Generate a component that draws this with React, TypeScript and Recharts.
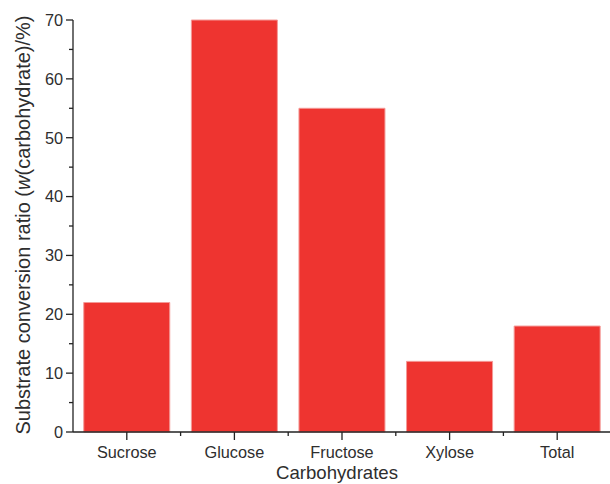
import React from 'react';
import { BarChart, Bar, XAxis, YAxis, Label } from 'recharts';

const categories = ['Sucrose', 'Glucose', 'Fructose', 'Xylose', 'Total'];
const conversion = [22, 70, 55, 12, 18];
const yTicks = [0, 5, 10, 15, 20, 25, 30, 35, 40, 45, 50, 55, 60, 65, 70];

const data = categories.map((name, i) => ({ name, value: conversion[i] }));

const FONT = '"Liberation Sans", Arial, Helvetica, sans-serif';
const AXIS = '#222';
const TEXT = '#2e2e2e';

const YTick = (props: any) => {
  const { x, y, payload } = props;
  const major = payload.value % 10 === 0;
  const len = major ? 7 : 4;
  return (
    <g>
      <line x1={x} x2={x - len} y1={y} y2={y} stroke={AXIS} strokeWidth={1.3} />
      {major && (
        <text x={x - 10} y={y} dy="0.36em" textAnchor="end" fontSize={16.3} fontFamily={FONT} fill={TEXT}>
          {payload.value}
        </text>
      )}
    </g>
  );
};

const XTick = (props: any) => {
  const { x, y, payload } = props;
  const off = payload && typeof payload.offset === 'number' ? payload.offset : 0;
  return (
    <g>
      <line x1={x} x2={x} y1={y} y2={y + 8} stroke={AXIS} strokeWidth={1.3} />
      {off > 0 && <line x1={x + off} x2={x + off} y1={y} y2={y + 4} stroke={AXIS} strokeWidth={1.3} />}
      <text x={x} y={y + 26} textAnchor="middle" fontSize={16.3} fontFamily={FONT} fill={TEXT}>
        {payload.value}
      </text>
    </g>
  );
};

const YLabel = () => {
  const cx = 30;
  const cy = 225;
  return (
    <text
      x={cx}
      y={cy}
      transform={`rotate(-90 ${cx} ${cy})`}
      textAnchor="middle"
      fontSize={20}
      fontFamily={FONT}
      fill={TEXT}
    >
      Substrate conversion ratio (<tspan fontStyle="italic">w</tspan>(carbohydrate)/%)
    </text>
  );
};

const XLabel = () => {
  return (
    <text x={337} y={479} textAnchor="middle" fontSize={18.6} fontFamily={FONT} fill={TEXT}>
      Carbohydrates
    </text>
  );
};

export default function App() {
  return (
    <div style={{ position: 'absolute', left: 0, top: 0, width: 610, height: 484, overflow: 'hidden', background: '#fff' }}>
      <BarChart
        width={611}
        height={484}
        data={data}
        margin={{ top: 20, right: 0, bottom: 0, left: 0 }}
      >
        <XAxis
          dataKey="name"
          height={52}
          tickLine={false}
          tickSize={0}
          tickMargin={0}
          axisLine={{ stroke: AXIS, strokeWidth: 1.3 }}
          tick={<XTick />}
          interval={0}
        >
          <Label content={<XLabel />} />
        </XAxis>
        <YAxis
          width={73}
          domain={[0, 70]}
          ticks={yTicks}
          interval={0}
          tickLine={false}
          tickSize={0}
          tickMargin={0}
          axisLine={{ stroke: AXIS, strokeWidth: 1.3 }}
          tick={<YTick />}
        >
          <Label content={<YLabel />} />
        </YAxis>
        <Bar dataKey="value" fill="#EE3430" stroke="#F49A97" strokeWidth={1} isAnimationActive={false} />
      </BarChart>
    </div>
  );
}
